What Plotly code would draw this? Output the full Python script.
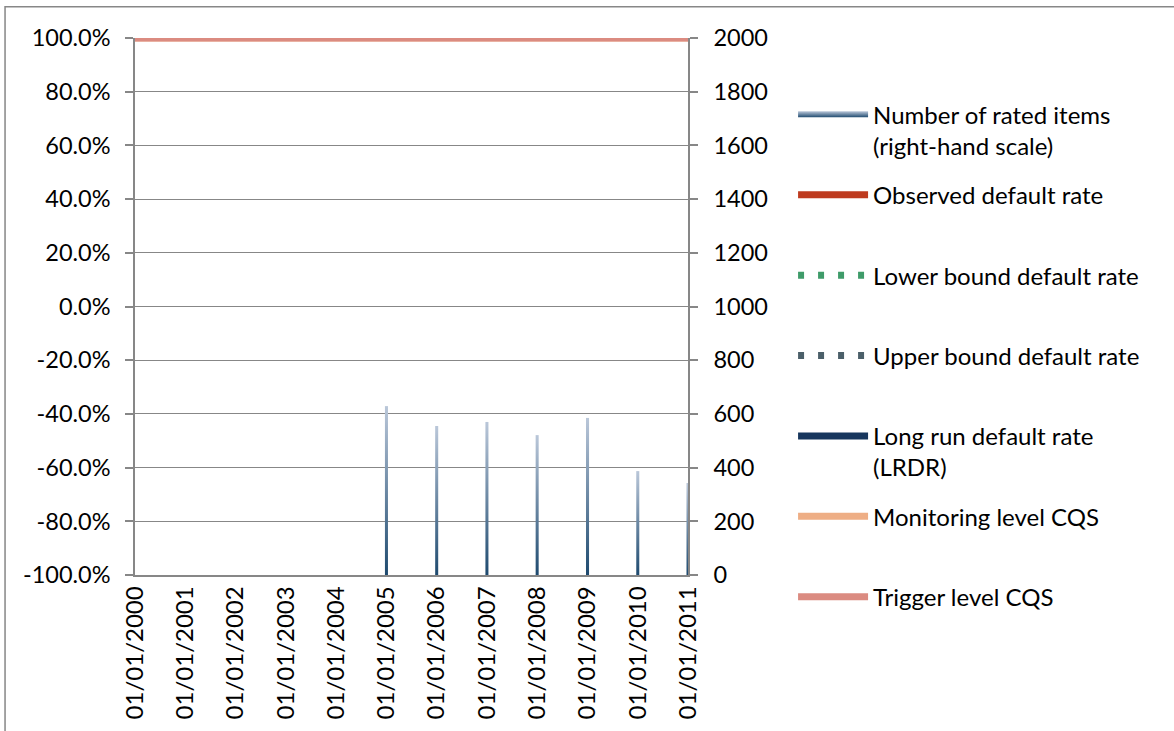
import pandas as pd
import plotly.graph_objects as go

# Reference dates (x axis) and series
dates = ["2000-01-01", "2001-01-01", "2002-01-01", "2003-01-01", "2004-01-01", "2005-01-01",
         "2006-01-01", "2007-01-01", "2008-01-01", "2009-01-01", "2010-01-01", "2011-01-01"]
rated_items = [None, None, None, None, None, 629, 555, 570, 521, 585, 387, 343]
observed_dr = [None] * 12
lower_bound_dr = [None] * 12
upper_bound_dr = [None] * 12
lrdr = [None] * 12
monitoring_cqs = [1.0] * 12
trigger_cqs = [1.0] * 12

# Left-hand (rate) axis ticks
rate_ticks = [-1.0, -0.8, -0.6, -0.4, -0.2, 0.0, 0.2, 0.4, 0.6, 0.8, 1.0]
rate_tick_labels = ["-100.0%", "-80.0%", "-60.0%", "-40.0%", "-20.0%", "0.0%",
                    "20.0%", "40.0%", "60.0%", "80.0%", "100.0%"]

FONT = "Lato"
GREY = "#878787"
BAR_DARK = "#1e4a6f"
BAR_LIGHT = "#bac7d9"
half_width = pd.Timedelta(days=11)

fig = go.Figure()

# Rated-items columns drawn as gradient-filled rectangles on the right-hand scale
first = True
for d, v in zip(dates, rated_items):
    if v is None:
        continue
    t = pd.Timestamp(d)
    fig.add_trace(go.Scatter(
        x=[t - half_width, t + half_width, t + half_width, t - half_width, t - half_width],
        y=[0, 0, v, v, 0],
        mode="none", fill="toself",
        fillgradient=dict(type="vertical", colorscale=[[0, BAR_DARK], [1, BAR_LIGHT]]),
        name="Number of rated items<br>(right-hand scale)",
        legendgroup="items", showlegend=first, yaxis="y2", hoverinfo="skip",
    ))
    first = False

line_series = [
    ("Observed default rate<br> ", observed_dr, "#be3b1f", "solid"),
    ("Lower bound default rate<br> ", lower_bound_dr, "#3e9b69", "6px,14px"),
    ("Upper bound default rate<br> ", upper_bound_dr, "#4b5f69", "6px,14px"),
    ("Long run default rate<br>(LRDR)", lrdr, "#17365d", "solid"),
    ("Monitoring level CQS<br> ", monitoring_cqs, "#eeae85", "solid"),
    ("Trigger level CQS<br> ", trigger_cqs, "#db8b81", "solid"),
]
for name, vals, color, dash in line_series:
    fig.add_trace(go.Scatter(
        x=dates, y=vals, mode="lines", name=name,
        line=dict(color=color, width=7, dash=dash),
        legendgroup=name, connectgaps=False,
    ))

fig.update_layout(
    width=1174, height=731,
    margin=dict(l=135, r=486, t=38, b=156),
    paper_bgcolor="white", plot_bgcolor="white",
    font=dict(family=FONT, size=24, color="#000000"),
    showlegend=True,
    legend=dict(
        x=1.19, xanchor="left", y=0.899, yanchor="top",
        valign="top", itemwidth=70, tracegroupgap=15, maxheight=700,
        font=dict(family=FONT, size=24, color="#000000"),
        bgcolor="rgba(0,0,0,0)",
    ),
    xaxis=dict(
        type="date", range=[dates[0], dates[-1]],
        dtick="M12", tick0=dates[0], tickformat="%d/%m/%Y",
        tickangle=-90, ticks="", showline=True, linecolor=GREY, linewidth=1.5,
        showgrid=False, zeroline=False, ticklabelstandoff=0,
        tickfont=dict(size=24),
    ),
    xaxis2=dict(
        type="date", range=[dates[0], dates[-1]], overlaying="x",
        anchor="free", position=0.5,
        dtick="M12", tick0=dates[0], ticks="outside", ticklen=8, tickcolor=GREY, tickwidth=1.5,
        showline=True, linecolor=GREY, linewidth=1.5, showticklabels=False, showgrid=False,
    ),
    yaxis=dict(
        range=[-1, 1], tickmode="array", tickvals=rate_ticks, ticktext=rate_tick_labels,
        ticks="outside", ticklen=8, tickcolor=GREY, tickwidth=1.5,
        showline=True, linecolor=GREY, linewidth=1.5,
        showgrid=True, gridcolor=GREY, gridwidth=1.3, zeroline=False,
        ticklabelstandoff=10, tickfont=dict(size=23.5),
    ),
    yaxis2=dict(
        range=[0, 2000], dtick=200, overlaying="y", side="right",
        ticks="outside", ticklen=8, tickcolor=GREY, tickwidth=1.5,
        showline=True, linecolor=GREY, linewidth=1.5,
        showgrid=False, zeroline=False, ticklabelstandoff=11, tickfont=dict(size=23.5),
    ),
    shapes=[dict(
        type="rect", xref="paper", yref="paper",
        x0=-0.235, x1=1.9, y0=-0.4, y1=1.058,
        line=dict(color=GREY, width=1.5), fillcolor="rgba(0,0,0,0)", layer="below",
    )],
)

fig.write_html("out.html")
